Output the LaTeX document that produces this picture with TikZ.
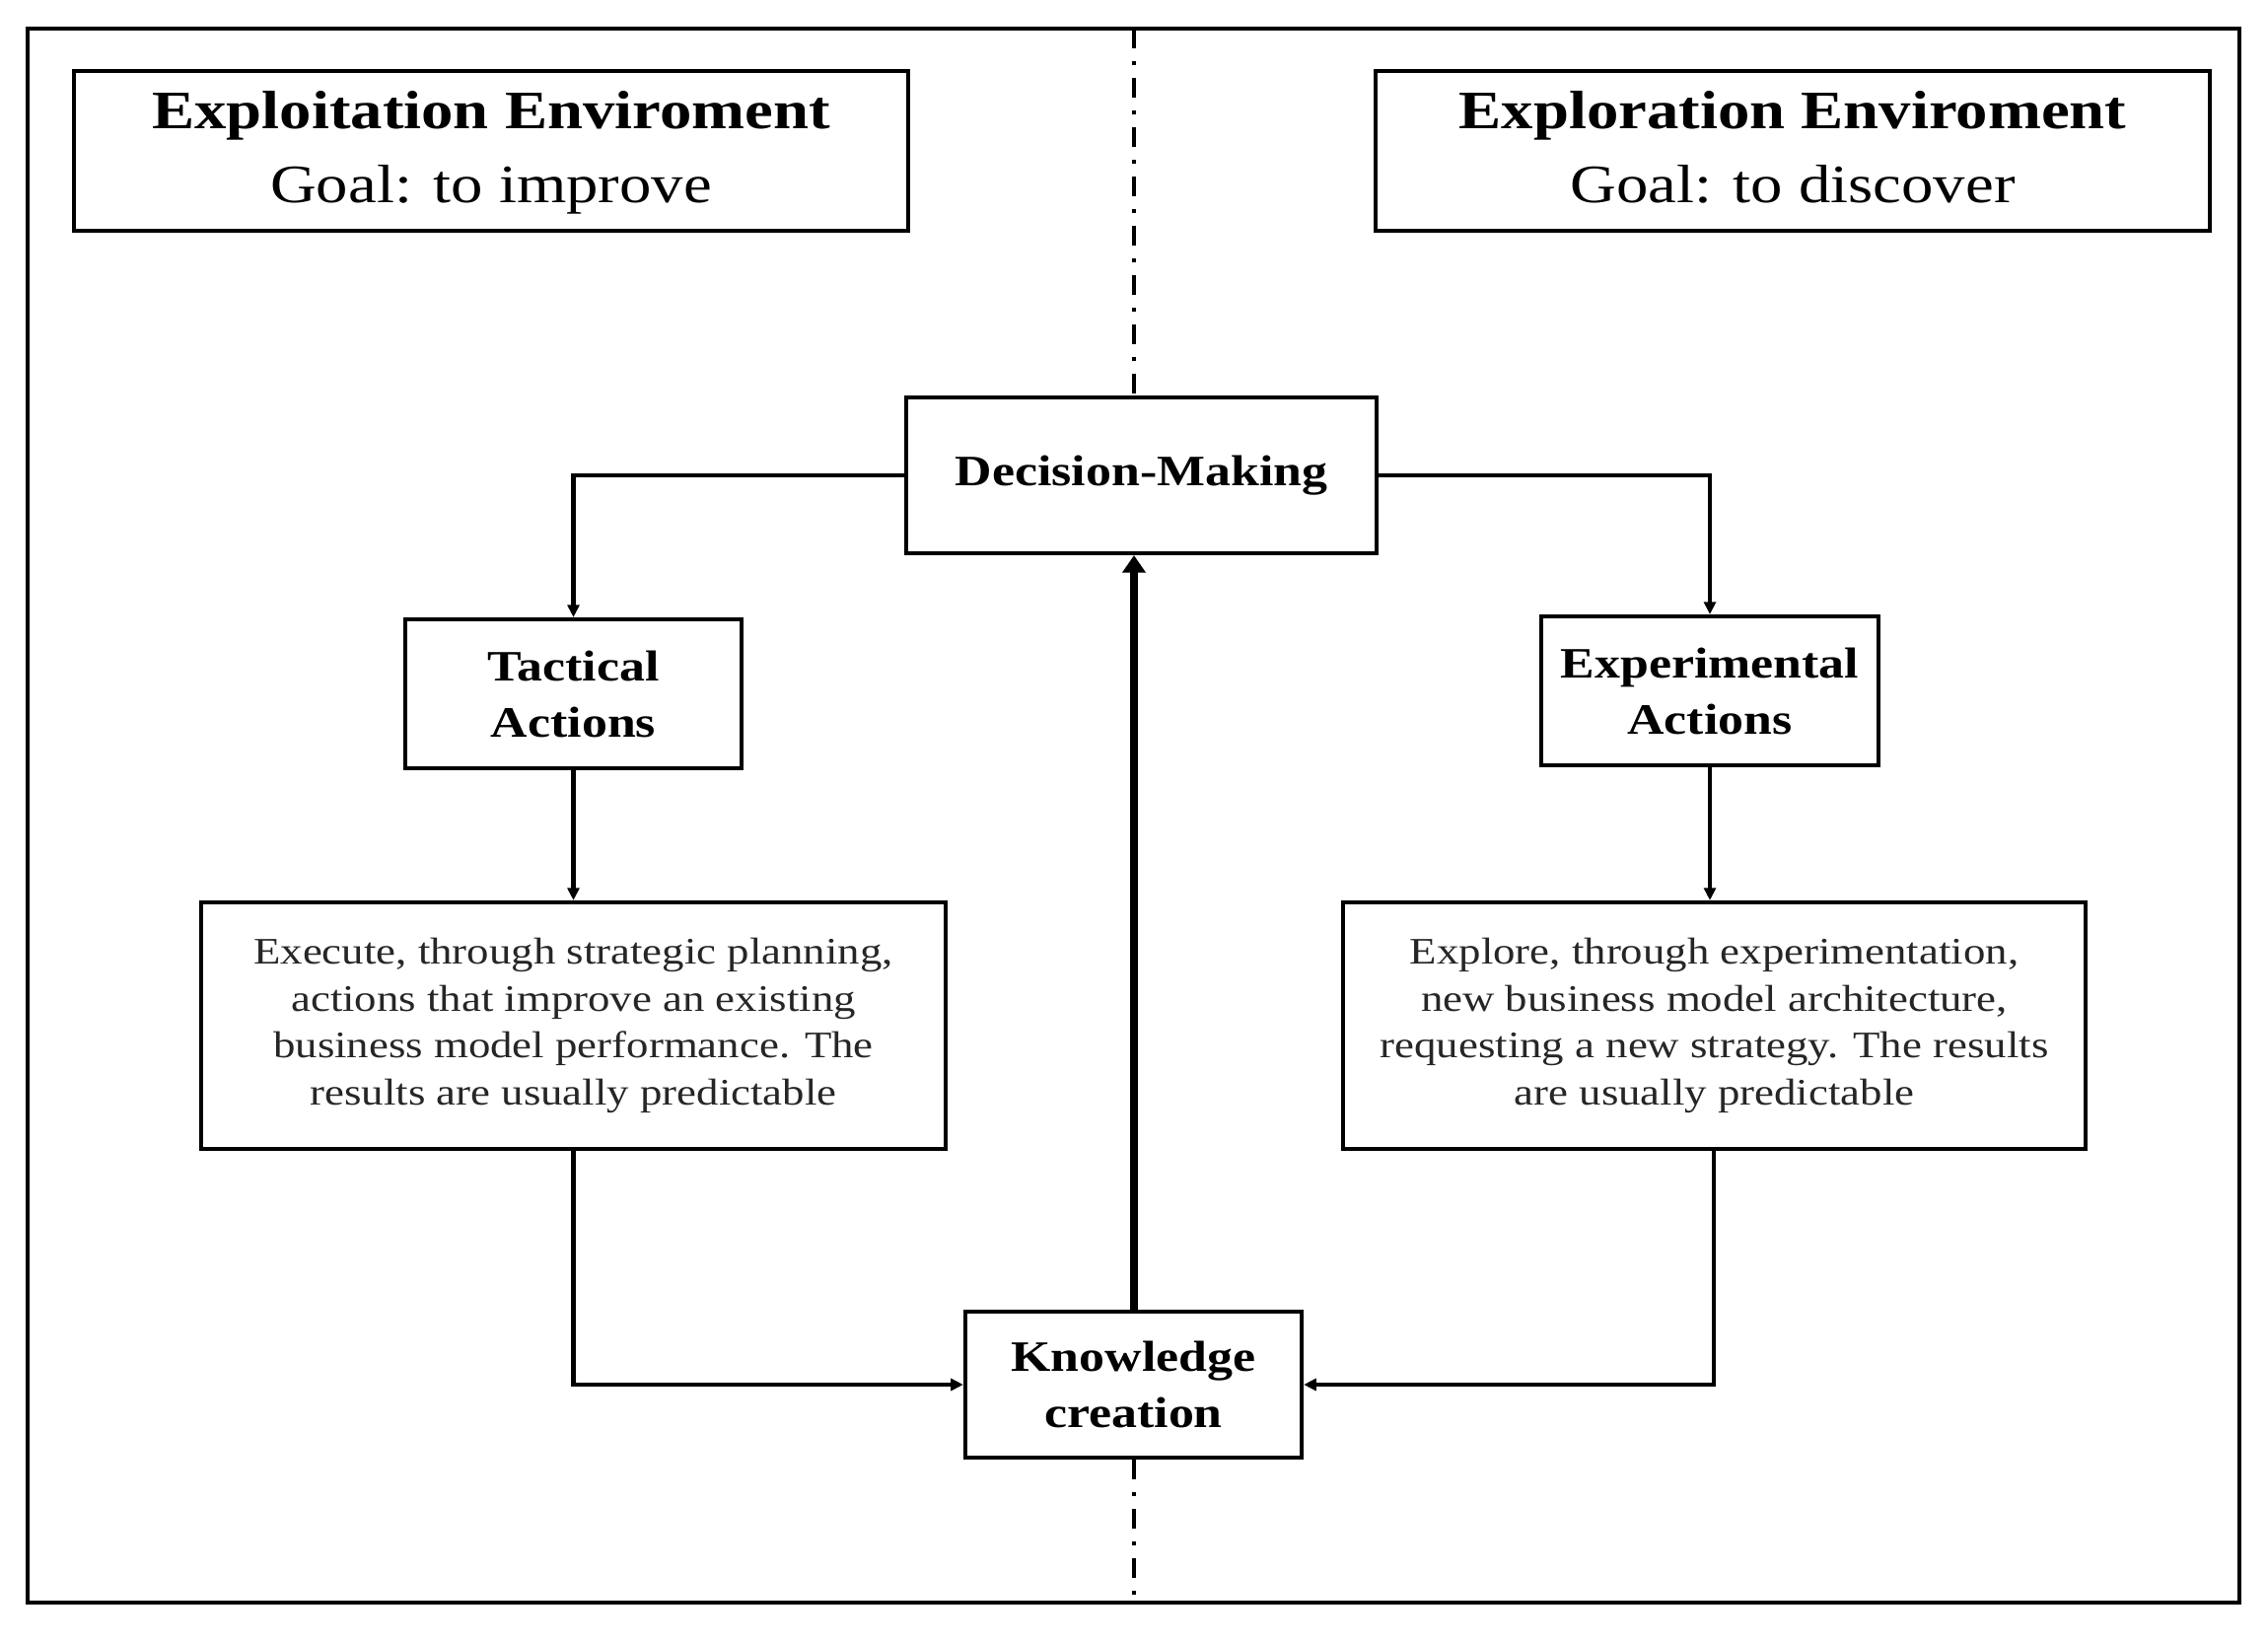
\documentclass[tikz,border=0pt]{standalone}
\usepackage{fontspec}
\setmainfont[FakeStretch=1.18]{Liberation Serif}
\usetikzlibrary{arrows.meta}
\begin{document}
\begin{tikzpicture}[x=0.01cm,y=-0.01cm,
  box/.style={draw, line width=1.15pt, inner sep=0pt, align=center},
  titlebox/.style={box, minimum width=8.45cm, minimum height=1.62cm, font=\fontsize{15.6}{21.3}\selectfont},
  labelbox/.style={box, minimum width=3.41cm, minimum height=1.51cm, font=\bfseries\fontsize{12.5}{16.2}\selectfont},
  textbox/.style={box, minimum width=7.54cm, minimum height=2.50cm, font=\fontsize{10.8}{13.5}\selectfont, text=black!85},
  conn/.style={line width=1.15pt, -{Triangle[length=3.6pt,width=3.4pt]}},
  bigconn/.style={line width=2.2pt, -{Triangle[length=5pt,width=6.5pt]}},
  axis/.style={line width=1.1pt, dash pattern=on 5.7pt off 3.7pt on 1.1pt off 3.7pt}
]
\useasboundingbox (0,0) rectangle (2300,1667);
\draw[line width=1.4pt] (28,29) rectangle (2271,1625);

\node[titlebox] (expl) at (498,153) {\strut\textbf{Exploitation Enviroment}\\\strut Goal: to improve};
\node[titlebox] (explr) at (1818,153) {\strut\textbf{Exploration Enviroment}\\\strut Goal: to discover};

\node[labelbox, minimum width=4.77cm, minimum height=1.58cm] (dec) at (1157.5,482) {Decision-Making};
\node[labelbox] (tac) at (581.5,703.5) {Tactical\\Actions};
\node[labelbox] (exa) at (1734,700.5) {Experimental\\Actions};
\node[textbox, minimum width=7.55cm] (exe) at (581.5,1040) {Execute, through strategic planning,\\actions that improve an existing\\business model performance. The\\results are usually predictable};
\node[textbox, minimum width=7.53cm] (exp) at (1738.5,1040) {Explore, through experimentation,\\new business model architecture,\\requesting a new strategy. The results\\are usually predictable};
\node[labelbox, minimum height=1.48cm] (kno) at (1149.5,1404) {Knowledge\\creation};

\coordinate (topmid) at (1150,29);
\coordinate (botmid) at (1150,1625);
\draw[axis] (topmid) -- (topmid |- dec.north);
\draw[axis] (kno.south -| botmid) -- (botmid);

\draw[conn] (dec.west) -| (tac.north);
\draw[conn] (dec.east) -| (exa.north);
\draw[conn] (tac.south) -- (exe.north -| tac.south);
\draw[conn] (exa.south) -- (exp.north -| exa.south);
\draw[conn] (exe.south -| tac.south) |- (kno.west);
\draw[conn] ([xshift=-0.01cm]exp.south) |- (kno.east);
\draw[bigconn] (kno.north -| topmid) -- (dec.south -| topmid);
\end{tikzpicture}
\end{document}
